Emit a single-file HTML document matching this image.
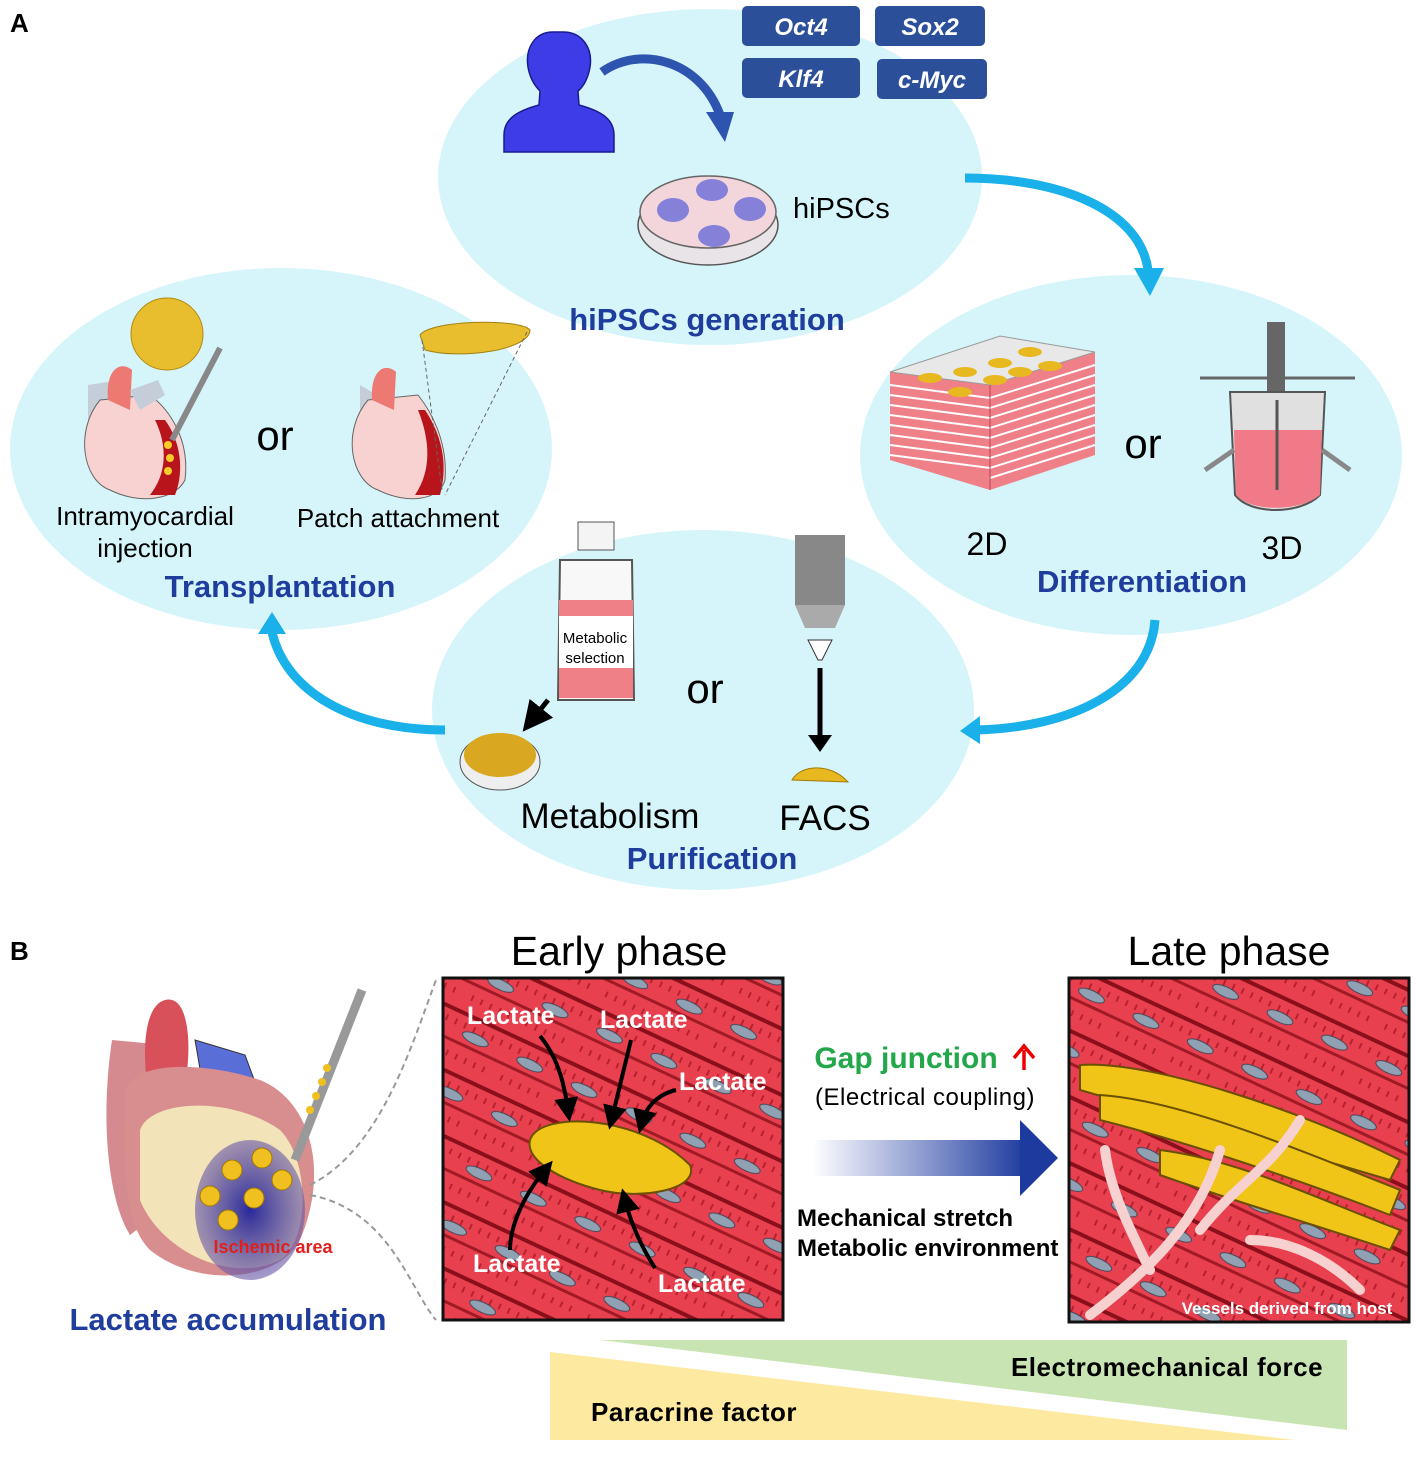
<!DOCTYPE html>
<html><head><meta charset="utf-8"><style>
html,body{margin:0;padding:0;background:#fff;}
svg{display:block;}
text{font-family:"Liberation Sans",Arial,sans-serif;}
</style></head><body>
<svg width="1417" height="1462" viewBox="0 0 1417 1462" xmlns="http://www.w3.org/2000/svg">
<defs>
<pattern id="musc" width="60" height="60" patternUnits="userSpaceOnUse" patternTransform="rotate(25)">
<rect width="60" height="60" fill="#e8404f"/>
<rect y="0" width="60" height="4" fill="#8a0f1a"/>
<rect y="30" width="60" height="3" fill="#a01a25"/>
<g stroke="#b8202e" stroke-width="2">
<line x1="5" y1="10" x2="5" y2="16"/><line x1="15" y1="10" x2="15" y2="16"/><line x1="25" y1="10" x2="25" y2="16"/><line x1="35" y1="10" x2="35" y2="16"/><line x1="45" y1="10" x2="45" y2="16"/><line x1="55" y1="10" x2="55" y2="16"/>
<line x1="10" y1="42" x2="10" y2="48"/><line x1="20" y1="42" x2="20" y2="48"/><line x1="30" y1="42" x2="30" y2="48"/><line x1="40" y1="42" x2="40" y2="48"/><line x1="50" y1="42" x2="50" y2="48"/>
</g>
<ellipse cx="30" cy="21" rx="14" ry="5" fill="#8fa1b3" stroke="#445" stroke-width="1"/>
</pattern>
<linearGradient id="arrg" x1="0" x2="1"><stop offset="0" stop-color="#2541a8" stop-opacity="0"/><stop offset="1" stop-color="#1d3a9e"/></linearGradient>
<radialGradient id="isch" cx="0.5" cy="0.5" r="0.5"><stop offset="0" stop-color="#2a2a9a"/><stop offset="1" stop-color="#6a5aa8" stop-opacity="0.6"/></radialGradient>
<marker id="ah" markerWidth="6" markerHeight="6" refX="3" refY="3" orient="auto"><path d="M0,0 L6,3 L0,6z" fill="#000"/></marker>
</defs>

<text x="10" y="32" font-size="26" font-weight="bold">A</text>
<text x="10" y="960" font-size="26" font-weight="bold">B</text>

<g fill="#d6f5fa">
<ellipse cx="710" cy="177" rx="272" ry="168"/>
<ellipse cx="281" cy="449" rx="271" ry="181"/>
<ellipse cx="1131" cy="455" rx="271" ry="180"/>
<ellipse cx="703" cy="710" rx="271" ry="180"/>
</g>

<g fill="none" stroke="#1ab0ea" stroke-width="9">
<path d="M965,178 C1060,178 1140,210 1148,270"/>
<path d="M1155,620 C1150,690 1070,728 975,730"/>
<path d="M445,730 C350,730 285,690 272,632"/>
</g>
<g fill="#1ab0ea">
<path d="M1134,268 L1164,268 L1150,296z"/>
<path d="M980,716 L980,744 L960,731z"/>
<path d="M258,634 L286,634 L272,612z"/>
</g>

<path d="M553,32 c-18,0 -28,16 -25,35 c2,12 8,20 12,24 l-1,14 c-22,6 -35,14 -35,30 l0,17 l110,0 l0,-17 c0,-16 -13,-24 -35,-30 l-1,-14 c5,-4 10,-12 12,-24 c3,-19 -8,-35 -27,-35z" fill="#3d3de8" stroke="#1a1a90" stroke-width="1.5"/>
<path d="M602,72 C640,45 700,60 720,115" fill="none" stroke="#2d55b0" stroke-width="9"/>
<path d="M706,112 L734,112 L725,142z" fill="#2d55b0"/>
<g font-size="24" font-weight="bold" font-style="italic" fill="#fff" text-anchor="middle">
<rect x="742" y="6" width="118" height="40" rx="5" fill="#2c4f9a"/><text x="801" y="35">Oct4</text>
<rect x="875" y="6" width="110" height="40" rx="5" fill="#2c4f9a"/><text x="930" y="35">Sox2</text>
<rect x="742" y="58" width="118" height="40" rx="5" fill="#2c4f9a"/><text x="801" y="87">Klf4</text>
<rect x="877" y="59" width="110" height="40" rx="5" fill="#2c4f9a"/><text x="932" y="88">c-Myc</text>
</g>
<ellipse cx="708" cy="225" rx="70" ry="40" fill="#e8e4e8" stroke="#555" stroke-width="1.5"/>
<ellipse cx="708" cy="212" rx="68" ry="36" fill="#f3d6dc" stroke="#666" stroke-width="1.5"/>
<g fill="#8580d8"><ellipse cx="673" cy="210" rx="16" ry="12"/><ellipse cx="712" cy="190" rx="16" ry="11"/><ellipse cx="750" cy="209" rx="16" ry="12"/><ellipse cx="714" cy="236" rx="16" ry="11"/></g>
<text x="793" y="218" font-size="29">hiPSCs</text>
<text x="707" y="330" font-size="31" font-weight="bold" fill="#1f3d9c" text-anchor="middle">hiPSCs generation</text>

<circle cx="167" cy="334" r="36" fill="#e8bd2e" stroke="#b08a10"/>
<g>
<path d="M88,385 L88,450 C90,480 140,500 170,495 L175,450 L120,380z" fill="#c5ced8"/>
<path d="M100,400 C75,430 82,480 110,490 C140,505 175,500 185,480 C190,440 170,410 150,395z" fill="#f7d2d0" stroke="#666"/>
<path d="M165,420 C180,440 185,470 175,495 L150,495 C170,470 165,440 155,420z" fill="#b8141c"/>
<path d="M108,400 C105,370 120,360 132,370 L130,410z" fill="#ec7a72"/>
<path d="M130,390 L158,380 L165,395 L140,410z" fill="#c5ced8"/>
<g fill="#f5cd2a"><circle cx="168" cy="445" r="4"/><circle cx="170" cy="458" r="4"/><circle cx="168" cy="471" r="4"/></g>
<line x1="172" y1="440" x2="220" y2="348" stroke="#888" stroke-width="6"/>
</g>
<text x="275" y="450" font-size="42" text-anchor="middle">or</text>
<path d="M420,335 C430,320 520,318 530,330 C530,350 460,360 425,350z" fill="#e8bd2e" stroke="#a08010"/>
<g>
<path d="M360,385 L360,460 L400,480 L420,420z" fill="#c5ced8"/>
<path d="M368,400 C342,430 350,480 378,490 C408,505 440,500 445,480 C448,440 430,410 418,395z" fill="#f7d2d0" stroke="#666"/>
<path d="M425,410 C445,440 447,470 440,495 L415,495 C432,470 430,440 418,410z" fill="#b8141c"/>
<path d="M372,400 C370,370 385,362 396,372 L394,410z" fill="#ec7a72"/>
</g>
<g stroke="#666" stroke-dasharray="4,3" fill="none"><line x1="422" y1="340" x2="442" y2="490"/><line x1="527" y1="332" x2="445" y2="495"/></g>
<g font-size="26" text-anchor="middle">
<text x="145" y="525">Intramyocardial</text><text x="145" y="557">injection</text>
<text x="398" y="527">Patch attachment</text>
</g>
<text x="280" y="597" font-size="31" font-weight="bold" fill="#1f3d9c" text-anchor="middle">Transplantation</text>

<g>
<path d="M890,372 L1000,336 L1095,352 L1095,455 L990,490 L890,460z" fill="#f08088"/>
<path d="M890,372 L1000,336 L1095,352 L990,385z" fill="#e8e8e8" stroke="#999"/>
<g stroke="#fff" stroke-width="2" fill="none">
<path d="M890,385 L990,398 L1095,365"/><path d="M890,395 L990,408 L1095,375"/><path d="M890,405 L990,418 L1095,385"/><path d="M890,415 L990,428 L1095,395"/><path d="M890,425 L990,438 L1095,405"/><path d="M890,435 L990,448 L1095,415"/><path d="M890,445 L990,458 L1095,425"/><path d="M890,455 L990,468 L1095,435"/><path d="M990,478 L1095,445"/>
</g>
<line x1="990" y1="385" x2="990" y2="490" stroke="#c04050"/>
<g fill="#e8b820"><ellipse cx="930" cy="378" rx="12" ry="5"/><ellipse cx="965" cy="372" rx="12" ry="5"/><ellipse cx="1000" cy="363" rx="12" ry="5"/><ellipse cx="1030" cy="352" rx="12" ry="5"/><ellipse cx="960" cy="392" rx="12" ry="5"/><ellipse cx="995" cy="380" rx="12" ry="5"/><ellipse cx="1050" cy="366" rx="12" ry="5"/><ellipse cx="1020" cy="372" rx="12" ry="5"/></g>
</g>
<text x="1143" y="458" font-size="42" text-anchor="middle">or</text>
<g>
<rect x="1267" y="322" width="18" height="80" fill="#666"/>
<line x1="1200" y1="378" x2="1355" y2="378" stroke="#666" stroke-width="3"/>
<path d="M1230,392 L1325,392 L1320,495 C1300,515 1250,515 1235,495z" fill="#e0e0e0" stroke="#555" stroke-width="2"/>
<path d="M1234,430 L1322,430 L1320,495 C1300,512 1250,512 1236,495z" fill="#f07a88"/>
<line x1="1277" y1="400" x2="1277" y2="490" stroke="#555" stroke-width="3"/>
<line x1="1205" y1="470" x2="1234" y2="450" stroke="#888" stroke-width="5"/><line x1="1350" y1="470" x2="1322" y2="450" stroke="#888" stroke-width="5"/>
</g>
<text x="987" y="555" font-size="32" text-anchor="middle">2D</text>
<text x="1282" y="559" font-size="32" text-anchor="middle">3D</text>
<text x="1142" y="592" font-size="31" font-weight="bold" fill="#1f3d9c" text-anchor="middle">Differentiation</text>

<rect x="578" y="522" width="36" height="28" fill="#f4f4f4" stroke="#555"/>
<path d="M560,560 L632,560 L634,700 L558,700z" fill="#f8f8f8" stroke="#555" stroke-width="2"/>
<rect x="559" y="600" width="74" height="16" fill="#f08088"/>
<rect x="559" y="668" width="74" height="30" fill="#f08088"/>
<rect x="559" y="616" width="74" height="52" fill="#fff"/>
<text x="595" y="643" font-size="15" text-anchor="middle">Metabolic</text>
<text x="595" y="663" font-size="15" text-anchor="middle">selection</text>
<line x1="548" y1="700" x2="532" y2="720" stroke="#000" stroke-width="5" marker-end="url(#ah)"/>
<ellipse cx="500" cy="762" rx="40" ry="28" fill="#eee" stroke="#555"/>
<ellipse cx="500" cy="755" rx="36" ry="22" fill="#d9a820"/>
<text x="705" y="703" font-size="42" text-anchor="middle">or</text>
<rect x="795" y="535" width="50" height="70" fill="#888"/>
<path d="M795,605 L845,605 L835,628 L805,628z" fill="#aaa"/>
<path d="M808,640 L832,640 L822,660 L818,660z" fill="#fff" stroke="#333"/>
<line x1="820" y1="668" x2="820" y2="738" stroke="#000" stroke-width="5"/>
<path d="M808,735 L832,735 L820,752z" fill="#000"/>
<path d="M792,780 C800,765 830,762 848,782z" fill="#e8b820" stroke="#a07808"/>
<text x="610" y="828" font-size="35" text-anchor="middle">Metabolism</text>
<text x="825" y="830" font-size="35" text-anchor="middle">FACS</text>
<text x="712" y="869" font-size="31" font-weight="bold" fill="#1f3d9c" text-anchor="middle">Purification</text>

<!-- Panel B heart -->
<path d="M112,1040 C100,1120 108,1200 130,1235 L175,1200 L165,1045z" fill="#d48a8f"/>
<path d="M150,1100 C140,1050 145,1005 165,1000 C185,995 190,1030 188,1060 L185,1100z" fill="#d8505a"/>
<path d="M195,1040 L245,1055 L258,1090 L205,1098z" fill="#5a6ed8" stroke="#333"/>
<path d="M125,1100 C120,1060 200,1060 260,1080 C310,1100 330,1170 300,1240 C280,1280 200,1290 150,1250 C120,1220 125,1150 125,1100z" fill="#d88d8e"/>
<path d="M140,1130 C150,1100 230,1095 280,1130 C310,1160 310,1240 280,1260 C230,1285 160,1250 140,1200z" fill="#f2e3b8"/>
<ellipse cx="250" cy="1210" rx="55" ry="70" fill="url(#isch)"/>
<g fill="#f0c020" stroke="#a07800"><circle cx="232" cy="1170" r="10"/><circle cx="262" cy="1158" r="10"/><circle cx="282" cy="1180" r="10"/><circle cx="210" cy="1196" r="10"/><circle cx="254" cy="1198" r="10"/><circle cx="228" cy="1220" r="10"/></g>
<line x1="295" y1="1160" x2="362" y2="990" stroke="#999" stroke-width="9"/>
<g fill="#f0c020"><circle cx="310" cy="1110" r="4"/><circle cx="316" cy="1096" r="4"/><circle cx="322" cy="1082" r="4"/><circle cx="327" cy="1068" r="4"/></g>
<text x="273" y="1253" font-size="18" font-weight="bold" fill="#e0201c" text-anchor="middle">Ischemic area</text>
<g stroke="#999" stroke-dasharray="6,4" fill="none" stroke-width="2"><path d="M310,1185 C380,1150 410,1050 436,980"/><path d="M310,1195 C390,1210 410,1290 436,1320"/></g>
<text x="228" y="1330" font-size="31" font-weight="bold" fill="#1f3d9c" text-anchor="middle">Lactate accumulation</text>

<text x="619" y="965" font-size="41" text-anchor="middle">Early phase</text>
<rect x="443" y="978" width="340" height="342" fill="url(#musc)" stroke="#111" stroke-width="3"/>
<path d="M530,1140 C540,1110 640,1115 690,1165 C700,1190 640,1200 600,1190 C560,1180 525,1160 530,1140z" fill="#f1c418" stroke="#6a5000" stroke-width="2"/>
<g font-size="25" font-weight="bold" fill="#fff"><text x="467" y="1024">Lactate</text><text x="600" y="1028">Lactate</text><text x="679" y="1090">Lactate</text><text x="473" y="1272">Lactate</text><text x="658" y="1292">Lactate</text></g>
<g stroke="#000" stroke-width="4" fill="none" marker-end="url(#ah)"><path d="M540,1036 C560,1060 565,1090 568,1110"/><path d="M631,1040 L612,1118"/><path d="M676,1090 C655,1095 645,1110 642,1122"/><path d="M510,1250 C510,1230 520,1200 545,1170"/><path d="M655,1268 C640,1245 630,1220 625,1200"/></g>

<text x="906" y="1068" font-size="30" font-weight="bold" fill="#22a84a" text-anchor="middle">Gap junction</text>
<path d="M1024,1070 L1024,1050 M1014,1058 L1024,1046 L1034,1058" stroke="#e00" stroke-width="3.5" fill="none"/>
<text x="925" y="1105" font-size="24" letter-spacing="0.5" text-anchor="middle">(Electrical coupling)</text>
<rect x="812" y="1140" width="215" height="36" fill="url(#arrg)"/>
<path d="M1020,1120 L1058,1158 L1020,1196z" fill="#1d3a9e"/>
<text x="797" y="1226" font-size="24" font-weight="bold">Mechanical stretch</text>
<text x="797" y="1256" font-size="24" font-weight="bold">Metabolic environment</text>

<text x="1229" y="965" font-size="41" text-anchor="middle">Late phase</text>
<rect x="1069" y="978" width="340" height="344" fill="url(#musc)" stroke="#111" stroke-width="3"/>
<g fill="#f1c418" stroke="#6a5000" stroke-width="2">
<path d="M1080,1065 C1150,1060 1300,1110 1400,1160 L1390,1180 C1290,1150 1150,1110 1080,1090z"/>
<path d="M1100,1095 C1180,1100 1300,1150 1400,1190 L1390,1215 C1300,1180 1180,1140 1100,1120z"/>
<path d="M1160,1150 C1240,1160 1320,1200 1400,1230 L1390,1250 C1300,1220 1230,1200 1160,1175z"/>
</g>
<g stroke="#f7d0d0" stroke-width="10" fill="none" stroke-linecap="round"><path d="M1090,1315 C1150,1270 1200,1220 1220,1150"/><path d="M1200,1230 C1240,1180 1270,1170 1300,1120"/><path d="M1150,1270 C1130,1230 1110,1190 1105,1150"/><path d="M1250,1240 C1290,1240 1330,1260 1360,1290"/></g>
<text x="1287" y="1314" font-size="17" font-weight="bold" fill="#fff" text-anchor="middle">Vessels derived from host</text>

<path d="M550,1352 L550,1440 L1295,1440z" fill="#fde9a0"/>
<path d="M600,1340 L1347,1340 L1347,1430z" fill="#c9e4b3"/>
<text x="1167" y="1376" font-size="26" font-weight="bold" letter-spacing="0.5" text-anchor="middle">Electromechanical force</text>
<text x="694" y="1421" font-size="26" font-weight="bold" letter-spacing="0.5" text-anchor="middle">Paracrine factor</text>
</svg>
</body></html>
